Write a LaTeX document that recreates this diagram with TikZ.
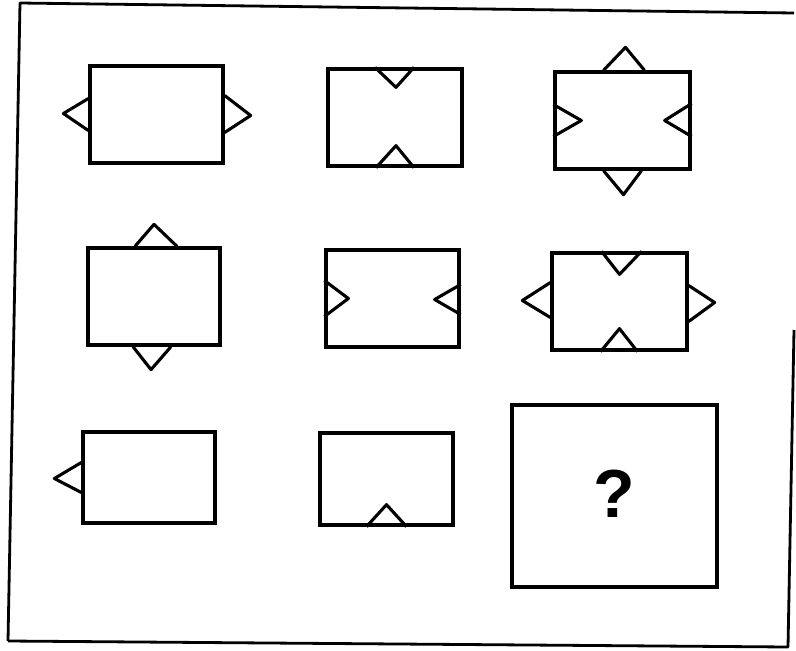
\documentclass[tikz,border=0pt]{standalone}
\usepackage{fontspec}
\newfontfamily\qfont{Liberation Sans}
\usetikzlibrary{positioning}

\begin{document}
\begin{tikzpicture}[
    x=1pt, y=-1pt,
    panel/.style={rectangle, draw, line width=3.3pt, minimum width=133pt, minimum height=97pt, inner sep=0pt},
    notch/.style={draw, line width=3.1pt, line join=round},
    border/.style={draw, line width=2.8pt, line join=round}
]
    \useasboundingbox (0,0) rectangle (796,651);

    % Outer frame (scan is slightly skewed)
    \path [border] (8,641) -- (20,3) -- (794,13);
    \path [border] (8,641) -- (788,647) -- (794,330);

    % Row 1
    \node (cell11) [panel] at (156.5,114.5) {};
    \node (cell12) [panel, minimum width=134pt] at (395,117.5) {};
    \node (cell13) [panel, minimum width=135pt] at (622.5,120.5) {};

    % Row 2
    \node (cell21) [panel, minimum width=132pt] at (154,296.5) {};
    \node (cell22) [panel] at (392.5,298.5) {};
    \node (cell23) [panel, minimum width=135pt] at (619.5,301.5) {};

    % Row 3
    \node (cell31) [panel, minimum width=132pt, minimum height=91pt] at (149,477.5) {};
    \node (cell32) [panel, minimum height=92pt] at (386.5,479) {};
    \node (cell33) [panel, minimum width=205pt, minimum height=182pt] at (614.5,496) {};
    \node (query) [font=\qfont\bfseries\fontsize{68}{68}\selectfont, inner sep=0pt] at (614.5,493.5) {?};

    % Triangles on row 1
    \path [notch, shift={(cell11.west)}] (0,-16) -- (-25,-1) -- (0,16);
    \path [notch, shift={(cell11.east)}] (0,-19) -- (26,1) -- (0,18);
    \path [notch, shift={(cell12.north)}] (-20,0) -- (1,20) -- (19,0);
    \path [notch, shift={(cell12.south)}] (-19,0) -- (1,-22) -- (19,0);
    \path [notch, shift={(cell13.north)}] (-19,0) -- (3,-23) -- (22,0);
    \path [notch, shift={(cell13.south)}] (-19,0) -- (1,24) -- (19,0);
    \path [notch, shift={(cell13.west)}] (0,-16) -- (28,0) -- (0,16);
    \path [notch, shift={(cell13.east)}] (0,-17) -- (-27,0) -- (0,16);

    % Triangles on row 2
    \path [notch, shift={(cell21.north)}] (-19,0) -- (0,-22) -- (23,0);
    \path [notch, shift={(cell21.south)}] (-21,0) -- (-3,23) -- (17,0);
    \path [notch, shift={(cell22.west)}] (0,-18) -- (24,0) -- (0,18);
    \path [notch, shift={(cell22.east)}] (0,-14) -- (-26,1) -- (0,16);
    \path [notch, shift={(cell23.north)}] (-18,0) -- (0,23) -- (22,0);
    \path [notch, shift={(cell23.south)}] (-19,0) -- (0,-23) -- (18,0);
    \path [notch, shift={(cell23.west)}] (0,-19) -- (-28,-1) -- (0,16);
    \path [notch, shift={(cell23.east)}] (0,-16) -- (26,1) -- (0,20);

    % Triangles on row 3
    \path [notch, shift={(cell31.west)}] (0,-15) -- (-27,1) -- (0,15);
    \path [notch, shift={(cell32.south)}] (-20,0) -- (0,-22) -- (20,0);

\end{tikzpicture}
\end{document}
